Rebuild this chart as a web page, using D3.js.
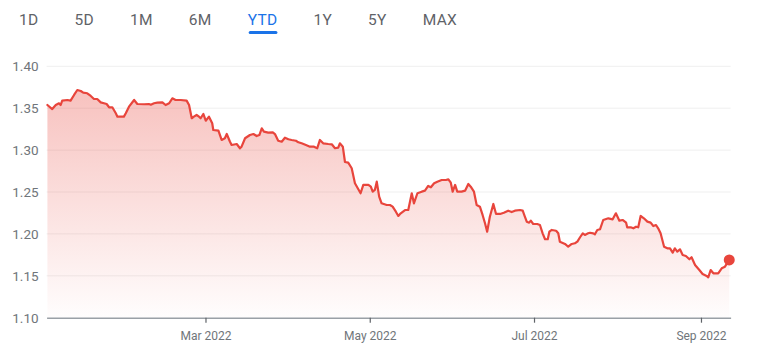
<!DOCTYPE html>
<html>
<head>
<meta charset="utf-8">
<script src="https://cdn.jsdelivr.net/npm/d3@7"></script>
<style>
  html, body { margin: 0; padding: 0; background: #fff; }
  svg { display: block; }
</style>
</head>
<body>
<svg id="chart" width="761" height="357"></svg>
<script>
// ---- Data ----
const rangeTabs = ["1D", "5D", "1M", "6M", "YTD", "1Y", "5Y", "MAX"];
const activeTab = "YTD";
const yTicks = [1.10, 1.15, 1.20, 1.25, 1.30, 1.35, 1.40];
const xTickDates = ["2022-03-01", "2022-05-01", "2022-07-01", "2022-09-01"];
const startDate = "2022-01-01";
const endDate = "2022-09-12";
// days after 2022-01-01
const dayOffsets = [
  0.3, 2.1, 3.4, 4.6, 5.2, 5.8, 7.7, 8.9, 10.2, 11.4, 12.7, 13.6, 15.1, 16.4, 17.6, 18.8,
  20.1, 21.3, 22.3, 23.2, 24.4, 25.7, 26.3, 28.7, 29.4, 30.6, 32.5, 33.7, 36.2, 38.0, 38.7,
  39.9, 41.1, 43.0, 44.2, 45.5, 46.7, 47.9, 49.8, 52.0, 52.9, 53.9, 54.7, 55.7, 56.6, 57.2,
  58.2, 59.1, 60.3, 61.5,
  61.9, 63.8, 65.0, 66.2, 66.9, 68.1, 68.7, 70.6, 71.8, 72.4, 73.7, 75.5, 76.8, 78.0, 79.0,
  79.9, 80.7, 82.3, 84.0, 84.8, 86.0, 87.3, 88.5, 89.8, 91.0, 92.6, 93.5, 94.7, 96.3, 97.8,
  99.3, 100.5, 101.5, 102.7, 104.6, 105.9, 107.1, 108.3,
  108.9, 110.0, 110.8, 112.0, 113.3, 114.5, 116.6, 117.6, 119.5, 120.4, 121.1, 121.9, 122.6,
  123.5, 124.4, 126.3, 127.5, 128.5, 129.7, 130.6, 131.5, 133.1, 134.3, 135.6, 136.4, 137.7,
  139.3, 140.5, 141.7, 142.7, 143.9, 145.1, 146.7, 148.3, 149.2, 150.1, 150.8, 151.7, 152.5,
  154.1, 155.4, 156.6, 157.5, 158.7, 159.7, 160.9,
  161.9, 162.8, 163.6, 164.6, 165.9, 166.9, 168.4, 169.8, 171.4, 172.7, 173.9, 175.8, 176.8,
  177.6, 178.3, 179.2, 179.8, 180.7, 182.2, 183.2, 184.2, 185.1, 186.1, 186.7, 187.6, 189.2,
  190.0, 190.6, 192.5, 193.7, 195.0, 196.2, 197.1, 198.1, 199.1, 199.9, 201.1,
  201.8, 203.0, 203.6, 204.5, 205.5, 206.7, 208.6, 210.2, 211.4, 212.7, 213.9, 215.2, 215.6,
  216.9, 217.9, 218.9, 219.7, 220.6, 221.8, 223.1, 224.3, 225.3, 226.3, 227.1, 228.0, 229.3,
  230.5, 231.5, 232.5, 233.3, 234.2, 235.2, 236.2, 237.4, 238.7, 239.5, 240.8, 242.4, 243.6,
  245.1, 245.7, 246.6, 247.6, 249.4, 250.7, 251.9, 253.5
];
const rates = [
  1.3538, 1.3490, 1.3538, 1.3559, 1.3538, 1.3590, 1.3598, 1.3590, 1.3658, 1.3717, 1.3705, 1.3685, 1.3678, 1.3646, 1.3610, 1.3610,
  1.3570, 1.3559, 1.3550, 1.3511, 1.3511, 1.3439, 1.3399, 1.3399, 1.3439, 1.3518, 1.3598, 1.3550, 1.3547, 1.3550, 1.3542,
  1.3559, 1.3566, 1.3570, 1.3538, 1.3559, 1.3618, 1.3598, 1.3598, 1.3590, 1.3538, 1.3380, 1.3399, 1.3419, 1.3399, 1.3380,
  1.3431, 1.3351, 1.3399, 1.3320,
  1.3240, 1.3232, 1.3121, 1.3141, 1.3192, 1.3100, 1.3061, 1.3073, 1.3022, 1.3041, 1.3141, 1.3180, 1.3192, 1.3168, 1.3180,
  1.3260, 1.3220, 1.3208, 1.3212, 1.3192, 1.3112, 1.3100, 1.3148, 1.3129, 1.3121, 1.3112, 1.3093, 1.3081, 1.3061, 1.3041,
  1.3041, 1.3022, 1.3121, 1.3081, 1.3073, 1.3069, 1.3022, 1.3029,
  1.3081, 1.3041, 1.2858, 1.2850, 1.2783, 1.2604, 1.2485, 1.2584, 1.2584, 1.2563, 1.2504, 1.2524, 1.2623,
  1.2444, 1.2365, 1.2345, 1.2345, 1.2325, 1.2265, 1.2214, 1.2246, 1.2285, 1.2285, 1.2485, 1.2365, 1.2485,
  1.2504, 1.2516, 1.2572, 1.2556, 1.2604, 1.2623, 1.2643, 1.2643, 1.2652, 1.2611, 1.2504, 1.2584, 1.2504,
  1.2504, 1.2516, 1.2596, 1.2563, 1.2504, 1.2345, 1.2325,
  1.2226, 1.2127, 1.2026, 1.2205, 1.2357, 1.2238, 1.2238, 1.2253, 1.2277, 1.2261, 1.2277, 1.2285, 1.2277,
  1.2205, 1.2146, 1.2134, 1.2158, 1.2118, 1.2118, 1.2106, 1.2007, 1.1936, 1.1936, 1.2026, 1.2047, 1.2038,
  1.2007, 1.1907, 1.1880, 1.1847, 1.1880, 1.1888, 1.1907, 1.1960, 1.2007, 1.1987, 1.2007,
  1.2014, 1.2007, 1.1995, 1.2047, 1.2055, 1.2166, 1.2186, 1.2174, 1.2246, 1.2158, 1.2166, 1.2134, 1.2079,
  1.2079, 1.2067, 1.2086, 1.2079, 1.2214, 1.2186, 1.2146, 1.2134, 1.2094, 1.2106, 1.2067, 1.2007, 1.1847,
  1.1828, 1.1828, 1.1776, 1.1828, 1.1788, 1.1816, 1.1748, 1.1736, 1.1697, 1.1721, 1.1629, 1.1569, 1.1521,
  1.1498, 1.1482, 1.1569, 1.1530, 1.1530, 1.1589, 1.1609, 1.1689
];

// ---- Drawing ----
(function () {
const parse = d3.timeParse("%Y-%m-%d");
const t0 = parse(startDate);
const data = dayOffsets.map((d, i) => ({ date: new Date(t0.getTime() + d * 864e5), value: rates[i] }));

const svg = d3.select("#chart");
const plotLeft = 46.6, plotRight = 730.6, plotTop = 66.3, plotBottom = 317.7;
const red = "#e8453c";
const grey = "#70757a";

const x = d3.scaleTime().domain([t0, parse(endDate)]).range([plotLeft, plotRight]);
const y = d3.scaleLinear().domain([1.10, 1.40]).range([plotBottom, plotTop]);

// Tabs
const tabs = svg.append("g").attr("class", "tabs");
let cx = 19;
rangeTabs.forEach(label => {
  const active = label === activeTab;
  const t = tabs.append("text")
    .attr("x", cx).attr("y", 25)
    .attr("font-family", "Roboto, 'Noto Sans', sans-serif")
    .attr("font-size", 15.5)
    .attr("font-weight", 400)
    .attr("letter-spacing", 0.3)
    .attr("fill", active ? "#1a73e8" : "#5f6368")
    .text(label);
  const w = t.node().getComputedTextLength();
  if (active) {
    tabs.append("rect")
      .attr("x", cx + 1).attr("y", 31).attr("width", w - 1).attr("height", 3)
      .attr("rx", 1.5).attr("fill", "#1a73e8");
  }
  cx += w + 36;
});

// gradient
const defs = svg.append("defs");
const grad = defs.append("linearGradient")
  .attr("id", "areaGrad").attr("gradientUnits", "userSpaceOnUse")
  .attr("x1", 0).attr("x2", 0).attr("y1", y(1.372)).attr("y2", plotBottom);
grad.append("stop").attr("offset", "0%").attr("stop-color", red).attr("stop-opacity", 0.33);
grad.append("stop").attr("offset", "100%").attr("stop-color", red).attr("stop-opacity", 0.01);

// gridlines
svg.append("g").selectAll("line")
  .data(yTicks.filter(v => v > 1.10))
  .join("line")
  .attr("x1", plotLeft).attr("x2", plotRight)
  .attr("y1", d => y(d)).attr("y2", d => y(d))
  .attr("stroke", "#efefef").attr("stroke-width", 1);

// area
const area = d3.area().x(d => x(d.date)).y0(plotBottom).y1(d => y(d.value)).curve(d3.curveLinear);
svg.append("path").datum(data).attr("d", area).attr("fill", "url(#areaGrad)");

// y labels
const yAxis = d3.axisLeft(y).tickValues(yTicks).tickFormat(d3.format(".2f")).tickSize(0).tickPadding(8);
const gy = svg.append("g").attr("transform", `translate(${plotLeft},0)`).call(yAxis);
gy.select(".domain").remove();
gy.selectAll("text")
  .attr("font-family", "Roboto, Arial, sans-serif").attr("font-size", 13.5)
  .attr("fill", grey);

// x axis
const xAxis = d3.axisBottom(x)
  .tickValues(xTickDates.map(parse))
  .tickFormat(d3.timeFormat("%b %Y"))
  .tickSize(5).tickSizeOuter(0).tickPadding(9);
const gx = svg.append("g").attr("transform", `translate(0,${plotBottom})`).call(xAxis);
gx.select(".domain").attr("stroke", "#9aa0a6").attr("stroke-width", 1.5);
gx.selectAll(".tick line").attr("stroke", "#5f6368").attr("stroke-width", 1.2);
gx.selectAll("text")
  .attr("font-family", "Roboto, Arial, sans-serif").attr("font-size", 12)
  .attr("fill", grey);

// line
const line = d3.line().x(d => x(d.date)).y(d => y(d.value)).curve(d3.curveLinear);
svg.append("path").datum(data).attr("d", line)
  .attr("fill", "none").attr("stroke", red).attr("stroke-width", 2.2)
  .attr("stroke-linejoin", "round").attr("stroke-linecap", "round");

// end dot
const last = data[data.length - 1];
svg.append("circle").attr("cx", x(last.date)).attr("cy", y(last.value)).attr("r", 5.5).attr("fill", red);
})();
</script>
</body>
</html>
